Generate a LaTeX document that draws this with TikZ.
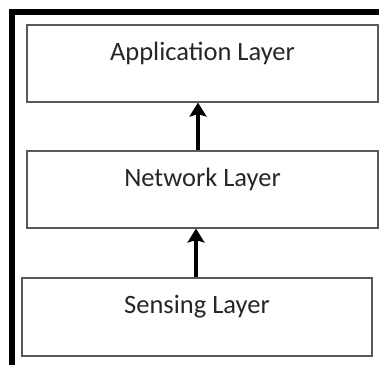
\documentclass[tikz,border=0pt]{standalone}
\usepackage{fontspec}
\setmainfont{Carlito}
\usetikzlibrary{arrows.meta}

\begin{document}
\begin{tikzpicture}[x=1pt, y=1pt,
layer/.style = {draw=black!65, line width=1.1pt, minimum width=351pt,
minimum height=77pt, inner sep=0pt, text height=18pt, text depth=25pt,
text=black!85, font=\fontsize{26.5}{30}\selectfont},
uparrow/.style = {line width=4pt, -{Stealth[length=14pt, width=17pt, inset=2.5pt]}},
    thick
                        ]
%bounding box
\useasboundingbox (0,0) rectangle (379,365);
%

% frame
\draw[line width=6pt] (11.7,0) |- (379,352.5);

% layers
\node[layer] (app)  at (202.5,301.5) {Application Layer};
\node[layer] (net)  at (202.5,175.5) {Network Layer};
\node[layer, minimum width=350pt, minimum height=78pt] (sens) at (197,48) {Sensing Layer};

% arrows
\draw[uparrow] ([xshift=-1pt]sens.north) -- ([xshift=-1pt]sens.north |- net.south);
\draw[uparrow] ([xshift=-4.5pt]net.north) -- ([xshift=-4.5pt]net.north |- app.south);

\end{tikzpicture}
\end{document}
